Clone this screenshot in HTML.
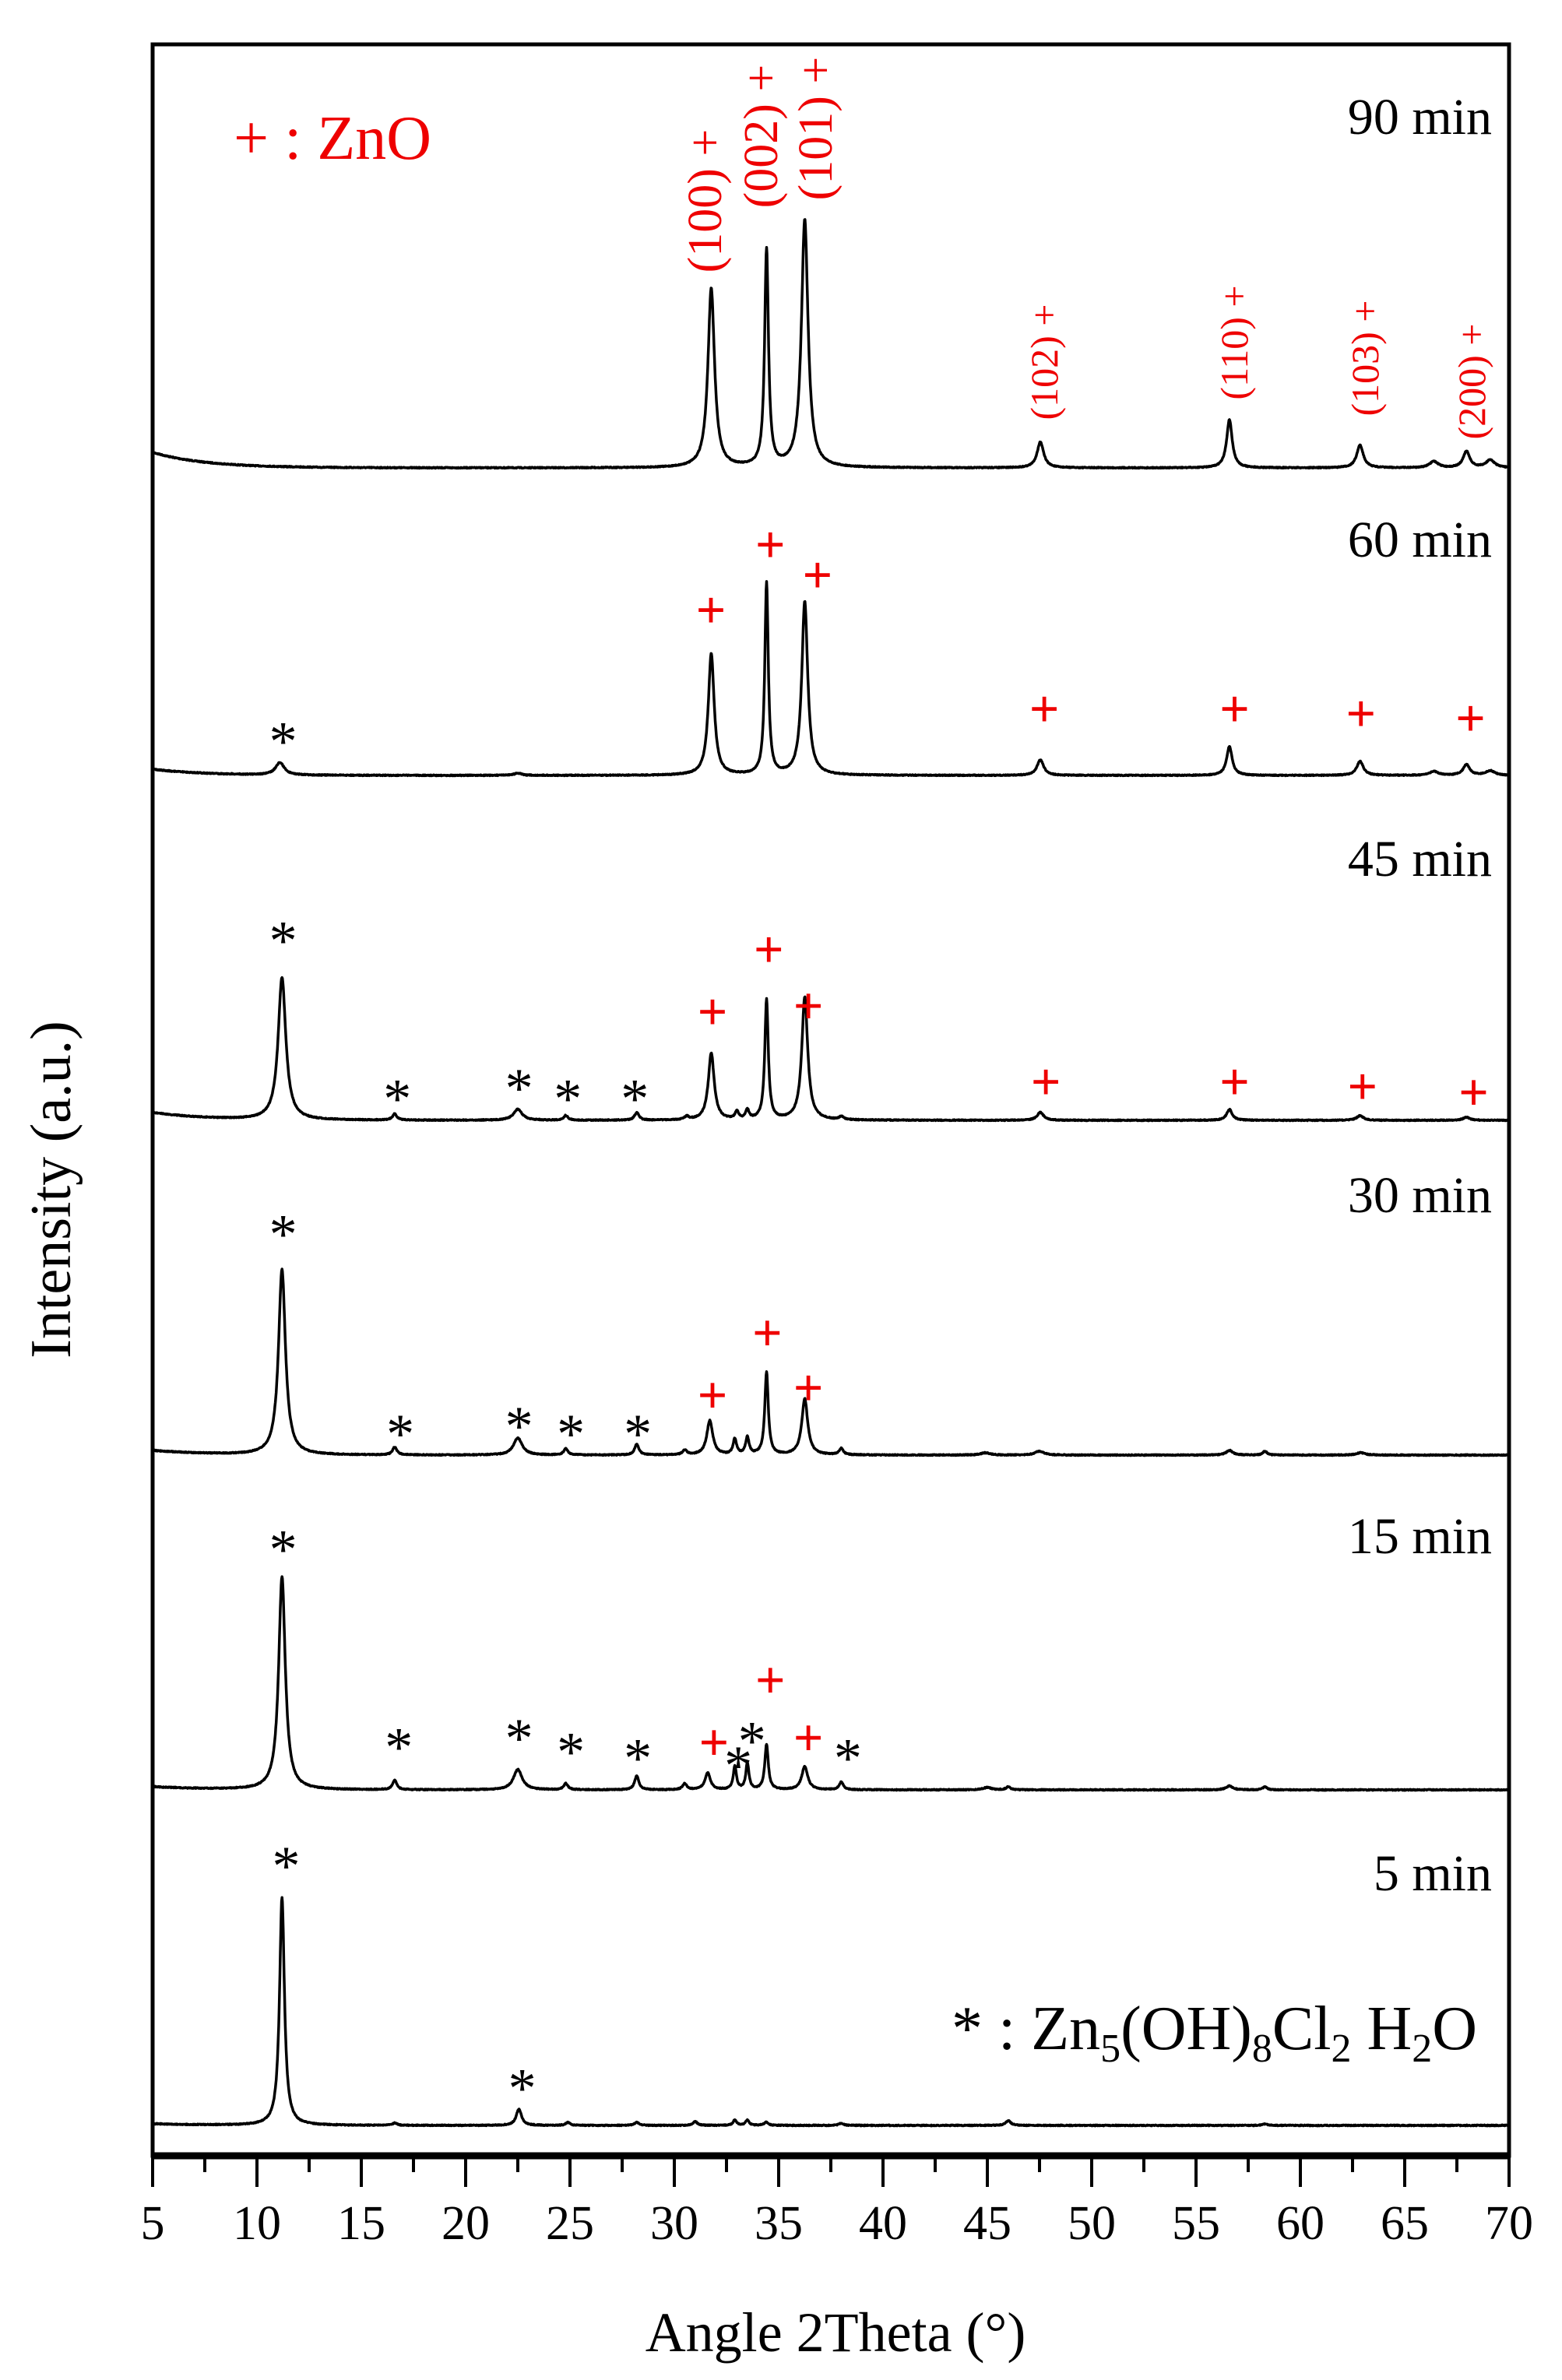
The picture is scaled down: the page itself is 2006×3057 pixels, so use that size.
<!DOCTYPE html>
<html><head><meta charset="utf-8"><style>
html,body{margin:0;padding:0;background:#fff;}
svg{display:block;}
text{font-family:"Liberation Serif",serif;}
</style></head><body>
<svg id="s" width="2006" height="3057" viewBox="0 0 2006 3057" xmlns="http://www.w3.org/2000/svg">
<rect x="0" y="0" width="2006" height="3057" fill="#fff"/>
<g id="traces" fill="none" stroke="#000" stroke-width="3.5" stroke-linejoin="round"></g>
<rect x="196" y="57" width="1742" height="2712" fill="none" stroke="#000" stroke-width="5"/>
<line x1="194" y1="2769" x2="1940" y2="2769" stroke="#000" stroke-width="9"/>
<g id="ticks" stroke="#000" stroke-width="4"></g>
<g font-size="62" text-anchor="middle" id="tl">
<text x="196" y="2876">5</text><text x="330" y="2876">10</text><text x="464" y="2876">15</text><text x="598" y="2876">20</text><text x="732" y="2876">25</text><text x="866" y="2876">30</text><text x="1000" y="2876">35</text><text x="1134" y="2876">40</text><text x="1268" y="2876">45</text><text x="1402" y="2876">50</text><text x="1536" y="2876">55</text><text x="1670" y="2876">60</text><text x="1804" y="2876">65</text><text x="1938" y="2876">70</text>
</g>
<text x="1073" y="3020" font-size="72" text-anchor="middle">Angle 2Theta (°)</text>
<text transform="translate(90,1528) rotate(-90)" font-size="74" text-anchor="middle">Intensity (a.u.)</text>
<g font-size="66" text-anchor="end">
<text x="1916" y="172">90 min</text>
<text x="1916" y="715">60 min</text>
<text x="1916" y="1125">45 min</text>
<text x="1916" y="1557">30 min</text>
<text x="1916" y="1995">15 min</text>
<text x="1916" y="2428">5 min</text>
</g>
<text x="300" y="204" font-size="80" fill="#e00">+ : ZnO</text>
<text x="1222" y="2632" font-size="80">* : Zn<tspan font-size="52" dy="16">5</tspan><tspan dy="-16">(OH)</tspan><tspan font-size="52" dy="16">8</tspan><tspan dy="-16">Cl</tspan><tspan font-size="52" dy="16">2</tspan><tspan dy="-16"> H</tspan><tspan font-size="52" dy="16">2</tspan><tspan dy="-16">O</tspan></text>
<g fill="#e00" font-size="62" text-anchor="middle">
<text transform="translate(926,258) rotate(-90)">(100) +</text>
<text transform="translate(998,175) rotate(-90)">(002) +</text>
<text transform="translate(1068,165) rotate(-90)">(101) +</text>
</g>
<g fill="#e00" font-size="50" text-anchor="middle">
<text transform="translate(1358,465) rotate(-90)">(102) +</text>
<text transform="translate(1602,440) rotate(-90)">(110) +</text>
<text transform="translate(1770,460) rotate(-90)">(103) +</text>
<text transform="translate(1907,490) rotate(-90)">(200) +</text>
</g>
<g id="marks"></g>
</svg>
<script>
var NS="http://www.w3.org/2000/svg";
function X(d){return 196+(d-5)*1742/65;}
var series=[
 {b:601,l:20,peaks:[[31.77,230,.19],[34.42,279,.11],[36.25,318,.19],[47.54,33,.19],[56.6,62,.16],[62.86,29,.19],[66.4,8,.25],[67.96,21,.19],[69.1,10,.25]]},
 {b:996,l:8,peaks:[[11.1,16,.25],[22.5,3,.2],[31.77,156,.17],[34.42,246,.1],[36.25,223,.17],[47.54,20,.19],[56.6,37,.16],[62.86,18,.19],[66.4,5,.25],[67.96,14,.19],[69.1,6,.25]]},
 {b:1439,l:10,peaks:[[11.2,183,.22],[16.6,8,.12],[22.5,14,.25],[24.8,6,.12],[28.2,10,.12],[30.6,4,.12],[31.77,86,.17],[33,10,.1],[33.5,12,.1],[34.42,154,.1],[36.25,158,.17],[38,4,.12],[47.54,10,.19],[56.6,14,.16],[62.86,6,.19],[67.96,4,.19]]},
 {b:1869,l:6,peaks:[[11.2,238,.2],[16.6,10,.12],[22.5,22,.25],[24.8,8,.12],[28.2,14,.12],[30.5,6,.12],[31.7,44,.17],[32.9,20,.1],[33.5,22,.1],[34.42,106,.1],[36.25,72,.17],[38,8,.12],[44.9,3,.25],[47.5,5,.25],[56.6,6,.19],[58.3,5,.12],[62.9,3,.25]]},
 {b:2299,l:4,peaks:[[11.2,274,.19],[16.6,12,.12],[22.5,26,.25],[24.8,8,.12],[28.2,18,.12],[30.5,8,.12],[31.6,22,.15],[32.9,30,.09],[33.5,34,.09],[34.42,58,.1],[36.25,30,.17],[38,10,.12],[45,3,.25],[46,4,.12],[56.6,5,.19],[58.3,4,.12]]},
 {b:2730,l:2,peaks:[[11.2,293,.14],[16.6,3,.12],[22.55,21,.15],[24.9,4,.12],[28.2,4,.12],[31,5,.12],[32.9,7,.1],[33.5,7,.1],[34.4,4,.12],[38,3,.12],[46,6,.15],[58.3,2,.12]]}
];
var g=document.getElementById('traces');
var seed=7;function rnd(){seed=(seed*16807)%2147483647;return seed/2147483647-0.5;}
series.forEach(function(s){
 var d="";
 for(var t=5;t<=70.0001;t+=0.02){
  var y=s.b - s.l*Math.exp(-(t-5)/2.5);
  s.peaks.forEach(function(p){var u=(t-p[0])/p[2];y-=p[1]/(1+u*u);});
  y+=rnd()*1.2;
  d+=(d?"L":"M")+X(t).toFixed(1)+" "+y.toFixed(1);
 }
 var pa=document.createElementNS(NS,'path');pa.setAttribute('d',d);g.appendChild(pa);
});
var tk=document.getElementById('ticks');
for(var v=5;v<=70;v+=2.5){
 var major=(v%5===0);
 var l=document.createElementNS(NS,'line');
 l.setAttribute('x1',X(v));l.setAttribute('x2',X(v));
 l.setAttribute('y1',2769);l.setAttribute('y2',major?2809:2790);
 tk.appendChild(l);
}
var f=1.955;
var stars=[[186,482],[186,613],[261,717],[341,710],[373,717],[417,717],[186,806],[263,937],[341,932],[375,937],[419,937],[186,1013],[262,1143],[341,1137],[375,1146],[419,1150],[485,1155],[494,1139],[557,1150],[188,1221],[343,1367]];
var plus=[[467,401],[506,358],[537,378],[686,466],[811,466],[894,469],[966,472],[468,665],[505,624],[531,661],[687,711],[811,711],[895,714],[968,718],[468,917],[504,876],[531,912],[469,1145],[506,1104],[531,1142]];
var m=document.getElementById('marks');
stars.forEach(function(p){var t=document.createElementNS(NS,'text');t.setAttribute('x',p[0]*f);t.setAttribute('y',p[1]*f+34);t.setAttribute('font-size','72');t.setAttribute('text-anchor','middle');t.textContent='*';m.appendChild(t);});
plus.forEach(function(p){var t=document.createElementNS(NS,'text');t.setAttribute('x',p[0]*f);t.setAttribute('y',p[1]*f+22);t.setAttribute('font-size','68');t.setAttribute('font-weight','bold');t.setAttribute('fill','#e00');t.setAttribute('text-anchor','middle');t.textContent='+';m.appendChild(t);});
</script>
</body></html>
